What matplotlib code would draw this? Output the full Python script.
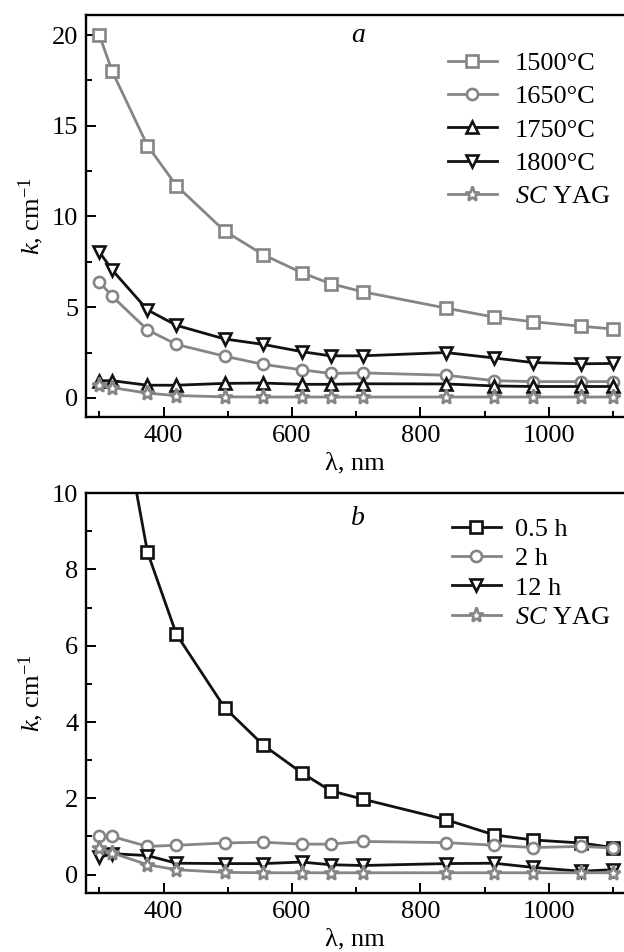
import numpy as np
import matplotlib
matplotlib.use('Agg')
import matplotlib.pyplot as plt
from matplotlib.ticker import MultipleLocator

plt.rcParams['font.family'] = ['Liberation Serif', 'DejaVu Serif']
plt.rcParams['mathtext.fontset'] = 'custom'
plt.rcParams['mathtext.rm'] = 'Liberation Serif'
plt.rcParams['mathtext.it'] = 'Liberation Serif:italic'
plt.rcParams['font.size'] = 19

# ==========================================================
# DADOS
# ==========================================================
wl = [300, 320, 375, 420, 495, 555, 615, 660, 710, 840, 915, 975, 1050, 1100]

# painel a - temperatura de sinterização
k_1500 = [20.0, 18.0, 13.9, 11.7, 9.2, 7.9, 6.9, 6.3, 5.85, 4.95, 4.45, 4.2, 3.95, 3.8]
k_1650 = [6.4, 5.6, 3.75, 2.95, 2.3, 1.85, 1.55, 1.35, 1.38, 1.25, 0.95, 0.9, 0.9, 0.9]
k_1750 = [0.95, 0.95, 0.7, 0.7, 0.8, 0.82, 0.75, 0.75, 0.78, 0.77, 0.66, 0.63, 0.63, 0.63]
k_1800 = [8.05, 7.05, 4.85, 4.0, 3.25, 2.95, 2.55, 2.32, 2.32, 2.5, 2.2, 1.95, 1.88, 1.9]
k_scyag = [0.7, 0.57, 0.26, 0.13, 0.06, 0.05, 0.05, 0.05, 0.05, 0.05, 0.05, 0.05, 0.05, 0.05]

# painel b - tempo de sinterização
k_05h = [16.0, 13.5, 8.45, 6.3, 4.38, 3.4, 2.67, 2.2, 1.98, 1.44, 1.04, 0.91, 0.83, 0.71]
k_2h = [1.0, 1.0, 0.74, 0.77, 0.83, 0.85, 0.8, 0.8, 0.87, 0.84, 0.77, 0.71, 0.74, 0.7]
k_12h = [0.45, 0.55, 0.5, 0.3, 0.29, 0.29, 0.33, 0.26, 0.24, 0.29, 0.3, 0.19, 0.09, 0.13]

labels_a = ['1500°C', '1650°C', '1750°C', '1800°C', '$SC$ YAG']
labels_b = ['0.5 h', '2 h', '12 h', '$SC$ YAG']

cinza = '#858585'
preto = '#111111'

series_a = [(k_1500, 's', cinza), (k_1650, 'o', cinza), (k_1750, '^', preto),
            (k_1800, 'v', preto), (k_scyag, '*', cinza)]
series_b = [(k_05h, 's', preto), (k_2h, 'o', cinza), (k_12h, 'v', preto),
            (k_scyag, '*', cinza)]

fig = plt.figure(figsize=(6.24, 9.52), dpi=100)
ax1 = fig.add_axes([0.1386, 0.562, 1.0 - 0.1386, 0.4222])
ax2 = fig.add_axes([0.1386, 0.062, 1.0 - 0.1386, 0.4201])


def desenhar(ax, series, labels):
    for (k, m, c), lab in zip(series, labels):
        ms = 11 if m == '*' else 8
        ax.plot(wl, k, color=c, marker=m, markersize=ms, markerfacecolor='white',
                markeredgecolor=c, markeredgewidth=1.9, linewidth=2.0, label=lab)


desenhar(ax1, series_a, labels_a)
desenhar(ax2, series_b, labels_b)

ax1.set_ylim(-1.05, 21.1)
ax1.yaxis.set_major_locator(MultipleLocator(5))
ax1.yaxis.set_minor_locator(MultipleLocator(2.5))
ax2.set_ylim(-0.48, 10)
ax2.yaxis.set_major_locator(MultipleLocator(2))
ax2.yaxis.set_minor_locator(MultipleLocator(1))

for ax in [ax1, ax2]:
    ax.set_xlim(280, 1117)
    ax.xaxis.set_major_locator(MultipleLocator(200))
    ax.xaxis.set_minor_locator(MultipleLocator(100))
    ax.tick_params(which='both', direction='in', width=1.4)
    ax.tick_params(which='major', length=7, pad=6)
    ax.tick_params(which='minor', length=4)
    ax.tick_params(axis='both', labelsize=19)
    ax.spines['right'].set_visible(False)
    for s in ['left', 'top', 'bottom']:
        ax.spines[s].set_linewidth(1.7)
    ax.set_ylabel('$k$, cm$^{-1}$', fontsize=19, labelpad=4)
    ax.set_xlabel('λ, nm', fontsize=19, labelpad=4)

ax1.text(0.505, 0.95, '$a$', transform=ax1.transAxes, ha='center', va='center', fontsize=20)
ax2.text(0.505, 0.9375, '$b$', transform=ax2.transAxes, ha='center', va='center', fontsize=20)

ax1.legend(loc='upper right', bbox_to_anchor=(1.01, 0.955), frameon=False, fontsize=19,
           handlelength=1.85, handletextpad=0.7, labelspacing=0.37, borderaxespad=0.3)
ax2.legend(loc='upper right', bbox_to_anchor=(1.01, 0.985), frameon=False, fontsize=19,
           handlelength=1.85, handletextpad=0.55, labelspacing=0.22, borderaxespad=0.3)

fig.savefig('out.png', dpi=100)
